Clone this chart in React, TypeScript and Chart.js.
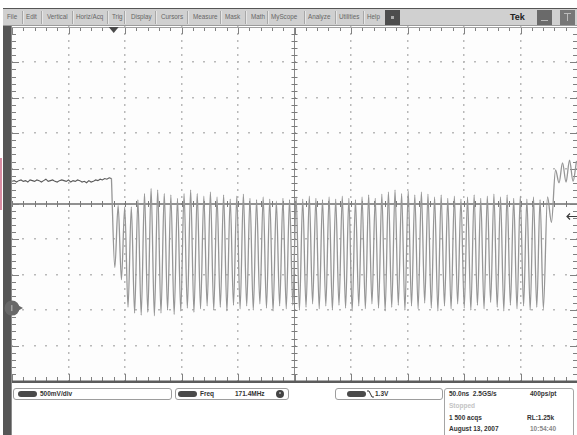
import React, { useEffect, useRef } from "react";
import { Chart, registerables } from "chart.js";

Chart.register(...registerables);

// ---- Scope settings (axis units: ns, volts) ----
const X_MIN = -250;
const X_MAX = 250;
const Y_MIN = -1.03;
const Y_MAX = 3.97;
const TRIGGER_TIME = -160;
const TRIGGER_LEVEL = 1.3;
const FREQ_MHZ = 171.4;

// ---- Pre-trigger flat section ----
const flatStart = -250;
const flatStep = 2;
const flatVolts = [
  1.79, 1.8, 1.78, 1.8, 1.81, 1.79, 1.8, 1.78, 1.81, 1.8,
  1.79, 1.81, 1.8, 1.78, 1.8, 1.82, 1.79, 1.8, 1.81, 1.79,
  1.78, 1.8, 1.81, 1.8, 1.79, 1.81, 1.78, 1.8, 1.79, 1.81,
  1.8, 1.78, 1.79, 1.77, 1.8, 1.78, 1.79, 1.81, 1.8, 1.82,
  1.81, 1.83, 1.82, 1.84, 1.83,
];

// ---- Burst: troughs and peaks, alternating at half-period spacing ----
const burstStart = -159;
const burstTroughs = [
  0.57, 0.4, 0.01, -0.07, -0.1, -0.06, -0.11, -0.07, -0.03, -0.09,
  -0.04, 0.0, -0.06, -0.01, 0.03, -0.03, 0.01, -0.04, 0.04, -0.01,
  0.03, -0.03, 0.06, 0.0, -0.04, 0.03, -0.01, 0.04, -0.03, 0.01,
  0.06, -0.01, 0.03, -0.03, 0.04, 0.0, -0.04, 0.03, -0.01, 0.06,
  0.0, -0.04, 0.01, 0.04, -0.03, 0.03, -0.01, 0.07, 0.0, -0.04,
  0.03, -0.01, 0.06, 0.0, -0.03, 0.04, -0.01, 0.08, 0.01, -0.04,
  0.04, -0.01, 0.03, -0.03, 0.01, -0.01,
];
const burstPeaks = [
  1.45, 1.43, 1.43, 1.53, 1.62, 1.69, 1.67, 1.62, 1.6, 1.55,
  1.62, 1.67, 1.62, 1.58, 1.64, 1.57, 1.6, 1.54, 1.58, 1.61,
  1.55, 1.53, 1.57, 1.54, 1.51, 1.55, 1.53, 1.57, 1.54, 1.58,
  1.55, 1.53, 1.57, 1.54, 1.58, 1.55, 1.53, 1.57, 1.6, 1.55,
  1.61, 1.64, 1.67, 1.62, 1.65, 1.6, 1.64, 1.61, 1.57, 1.6,
  1.55, 1.58, 1.54, 1.57, 1.6, 1.55, 1.58, 1.61, 1.57, 1.6,
  1.55, 1.58, 1.54, 1.57, 1.53,
];

// ---- Tail after the burst ----
const tailTimes = [223.9, 227.4, 231.0, 234.1, 237.2, 240.3, 243.4, 246.5, 249.6];
const tailVolts = [1.57, 1.21, 1.95, 1.77, 2.05, 1.78, 2.09, 1.79, 2.08];

// ---- Text ----
const menuLabels = ["File", "Edit", "Vertical", "Horiz/Acq", "Trig", "Display", "Cursors", "Measure", "Mask", "Math", "MyScope", "Analyze", "Utilities", "Help"];
const menuX = [7, 26, 47, 76, 112, 131, 161, 193, 225, 251, 271, 308, 339, 367];
const menuSep = [22, 41, 72, 107, 124, 155, 187, 220, 245, 267, 304, 335, 363];

const FONT = '"Liberation Sans", Arial, sans-serif';

const scopePlugin = {
  id: "scopeGraticule",
  beforeDatasetsDraw(chart: any) {
    const ctx = chart.ctx;
    const { left, right, top, bottom } = chart.chartArea;
    const w = right - left;
    const h = bottom - top;
    const dx = w / 10;
    const dy = h / 10;
    ctx.save();
    ctx.fillStyle = "#fdfdfd";
    ctx.fillRect(left, top, w, h);
    // dotted major lines
    ctx.fillStyle = "#b9b9b9";
    for (let i = 1; i < 10; i++) {
      if (i === 5) continue;
      const x = Math.round(left + i * dx);
      for (let j = 0; j <= 50; j++) {
        const y = Math.round(top + (j * dy) / 5);
        ctx.fillRect(x - 1, y - 1, 1.5, 2);
      }
      const yy = Math.round(top + i * dy);
      for (let j = 0; j <= 50; j++) {
        const xx = Math.round(left + (j * dx) / 5);
        ctx.fillRect(xx - 1, yy - 1, 2, 1.5);
      }
    }
    // center cross
    const cx = left + 5 * dx;
    const cy = top + 5 * dy;
    ctx.strokeStyle = "#6c6c6c";
    ctx.lineWidth = 1.4;
    ctx.beginPath();
    ctx.moveTo(left, cy);
    ctx.lineTo(right, cy);
    ctx.stroke();
    ctx.lineWidth = 1;
    ctx.strokeStyle = "#8a8a8a";
    ctx.beginPath();
    ctx.moveTo(cx, top);
    ctx.lineTo(cx, bottom);
    ctx.stroke();
    ctx.strokeStyle = "#7a7a7a";
    ctx.beginPath();
    for (let j = 0; j <= 50; j++) {
      const x = Math.round(left + (j * dx) / 5) + 0.5;
      ctx.moveTo(x, cy - 3);
      ctx.lineTo(x, cy + 3);
      const y = Math.round(top + (j * dy) / 5) + 0.5;
      ctx.moveTo(cx - 3, y);
      ctx.lineTo(cx + 3, y);
    }
    ctx.stroke();
    // edge ticks
    ctx.strokeStyle = "#808080";
    ctx.beginPath();
    for (let j = 0; j <= 50; j++) {
      const len = j % 5 === 0 ? 7 : 4;
      const x = Math.round(left + (j * dx) / 5) + 0.5;
      ctx.moveTo(x, top);
      ctx.lineTo(x, top + len);
      ctx.moveTo(x, bottom);
      ctx.lineTo(x, bottom - len);
      const y = Math.round(top + (j * dy) / 5) + 0.5;
      ctx.moveTo(left, y);
      ctx.lineTo(left + len, y);
      ctx.moveTo(right, y);
      ctx.lineTo(right - len, y);
    }
    ctx.stroke();
    // top border
    ctx.fillStyle = "#a0a0a0";
    ctx.fillRect(left, top, w, 1);
    ctx.restore();
  },
  afterDatasetsDraw(chart: any) {
    const ctx = chart.ctx;
    const { left, right, top, bottom } = chart.chartArea;
    const xs = chart.scales.x;
    const ys = chart.scales.y;
    ctx.save();
    // left dark bar
    ctx.fillStyle = "#565656";
    ctx.fillRect(0, 0, left - 1, chart.height);
    ctx.fillStyle = "#8c8c8c";
    ctx.fillRect(left - 1, 0, 1, chart.height);
    // bottom thick line
    ctx.fillStyle = "#5c5c5c";
    ctx.fillRect(left, bottom - 0.5, right - left, 2.5);
    // trigger position marker
    const tx = xs.getPixelForValue(TRIGGER_TIME);
    ctx.fillStyle = "#4a4a4a";
    ctx.beginPath();
    ctx.moveTo(tx - 5, top);
    ctx.lineTo(tx + 5, top);
    ctx.lineTo(tx, top + 6);
    ctx.closePath();
    ctx.fill();
    // channel ground marker
    const gy = ys.getPixelForValue(0);
    ctx.fillStyle = "#686868";
    ctx.beginPath();
    ctx.arc(9, gy, 7.5, 0, Math.PI * 2);
    ctx.fill();
    ctx.beginPath();
    ctx.moveTo(9, gy - 6);
    ctx.lineTo(20, gy);
    ctx.lineTo(9, gy + 6);
    ctx.closePath();
    ctx.fill();
    ctx.fillStyle = "#a4a4a4";
    ctx.fillRect(8, gy - 3, 1.5, 6);
    // trigger level arrow
    const ty = Math.round(ys.getPixelForValue(TRIGGER_LEVEL)) + 0.5;
    ctx.strokeStyle = "#3c3c3c";
    ctx.lineWidth = 1.2;
    ctx.beginPath();
    ctx.moveTo(right, ty);
    ctx.lineTo(right - 10, ty);
    ctx.moveTo(right - 7, ty - 3);
    ctx.lineTo(right - 10, ty);
    ctx.lineTo(right - 7, ty + 3);
    ctx.stroke();
    ctx.restore();
  },
};

function ScopeChart() {
  const ref = useRef<HTMLCanvasElement | null>(null);
  useEffect(() => {
    if (!ref.current) return;
    const halfPeriod = 1000 / FREQ_MHZ / 2;
    const flatData = flatVolts.map((v, i) => ({ x: flatStart + i * flatStep, y: v }));
    const burstData: { x: number; y: number }[] = [flatData[flatData.length - 1]];
    const n = burstTroughs.length + burstPeaks.length;
    for (let i = 0; i < n; i++) {
      const v = i % 2 === 0 ? burstTroughs[i / 2] : burstPeaks[(i - 1) / 2];
      burstData.push({ x: burstStart + i * halfPeriod, y: v });
    }
    tailTimes.forEach((t, i) => burstData.push({ x: t, y: tailVolts[i] }));

    const chart = new Chart(ref.current, {
      type: "line",
      data: {
        datasets: [
          {
            data: flatData,
            borderColor: "#5a5a5a",
            borderWidth: 1.1,
            pointRadius: 0,
            tension: 0,
          },
          {
            data: burstData,
            borderColor: "#969696",
            borderWidth: 1.3,
            pointRadius: 0,
            cubicInterpolationMode: "monotone",
          },
        ],
      },
      options: {
        animation: false,
        responsive: false,
        events: [],
        layout: { padding: { left: 9, right: 0, top: 1, bottom: 3 } },
        plugins: { legend: { display: false }, tooltip: { enabled: false } },
        scales: {
          x: { type: "linear", min: X_MIN, max: X_MAX, display: false },
          y: { type: "linear", min: Y_MIN, max: Y_MAX, display: false },
        },
      },
      plugins: [scopePlugin],
    } as any);
    return () => chart.destroy();
  }, []);
  return <canvas ref={ref} width={574} height={358} style={{ position: "absolute", left: 3, top: 26, display: "block" }} />;
}

const abs = (l: number, t: number, extra: React.CSSProperties = {}): React.CSSProperties => ({
  position: "absolute",
  left: l,
  top: t,
  ...extra,
});

const txt = (l: number, t: number, extra: React.CSSProperties = {}): React.CSSProperties =>
  abs(l, t, { fontFamily: FONT, fontSize: 6.5, fontWeight: "bold", color: "#333", lineHeight: "8px", whiteSpace: "nowrap", ...extra });

function Pill({ l, t }: { l: number; t: number }) {
  return <div style={abs(l, t, { width: 19, height: 6, borderRadius: 3, background: "#4a4a4a" })} />;
}

export default function App() {
  return (
    <div style={{ position: "absolute", left: 0, top: 0, width: 577, height: 435, overflow: "hidden", background: "#fff" }}>
      {/* pink edge */}
      <div style={abs(0, 158, { width: 2, height: 52, background: "#d98ca2" })} />
      {/* menu bar */}
      <div style={abs(3, 8, { width: 574, height: 18, background: "#d0d0d0", borderTop: "1px solid #555", borderBottom: "1px solid #9a9a9a", boxSizing: "border-box" })} />
      {menuSep.map((x, i) => (
        <div key={"s" + i} style={abs(x, 11, { width: 1, height: 13, background: "#a8a8a8", borderRight: "1px solid #e6e6e6" })} />
      ))}
      {menuLabels.map((m, i) => (
        <div key={"m" + i} style={txt(menuX[i], 13, { fontWeight: "normal", color: "#666", fontSize: 6.3 })}>{m}</div>
      ))}
      <div style={abs(385, 10, { width: 15, height: 15, background: "#4d4d4d" })}>
        <div style={abs(6, 6, { width: 3, height: 3, background: "#aaa" })} />
      </div>
      <div style={txt(510, 12, { fontSize: 9, lineHeight: "10px", color: "#222" })}>Tek</div>
      <div style={abs(537, 10, { width: 15, height: 15, background: "#6a6a6a" })}>
        <div style={abs(4, 10, { width: 7, height: 1, background: "#bbb" })} />
      </div>
      <div style={abs(560, 10, { width: 15, height: 15, background: "#777" })}>
        <div style={abs(4, 3, { width: 7, height: 1, background: "#bbb" })} />
        <div style={abs(7, 4, { width: 1, height: 7, background: "#bbb" })} />
      </div>

      {/* graticule + waveform */}
      <ScopeChart />

      {/* left bar continuing below */}
      <div style={abs(3, 384, { width: 8, height: 51, background: "#565656" })} />
      <div style={abs(11, 384, { width: 1, height: 51, background: "#8c8c8c" })} />

      {/* readout boxes */}
      <div style={abs(13, 388, { width: 159, height: 12, border: "1px solid #9d9d9d", borderRadius: 3, boxSizing: "border-box" })} />
      <Pill l={18} t={391} />
      <div style={txt(40, 390)}>500mV/div</div>

      <div style={abs(175, 388, { width: 114, height: 12, border: "1px solid #9d9d9d", borderRadius: 3, boxSizing: "border-box" })} />
      <Pill l={178} t={391} />
      <div style={txt(200, 390)}>Freq</div>
      <div style={txt(235, 390)}>171.4MHz</div>
      <div style={abs(276, 390, { width: 8, height: 8, borderRadius: 4, background: "#444" })}>
        <div style={abs(3, 2, { width: 2, height: 2, background: "#999" })} />
      </div>

      <div style={abs(335, 388, { width: 108, height: 12, border: "1px solid #9d9d9d", borderRadius: 3, boxSizing: "border-box" })} />
      <Pill l={347} t={391} />
      <svg style={abs(367, 390)} width={7} height={8}>
        <polyline points="0,1 2,1 5,7 7,7" fill="none" stroke="#333" strokeWidth={1} />
      </svg>
      <div style={txt(375, 390)}>1.3V</div>

      <div style={abs(444, 388, { width: 130, height: 50, border: "1px solid #a5a5a5", borderRadius: 3, boxSizing: "border-box" })} />
      <div style={txt(449, 390)}>50.0ns&nbsp;&nbsp;2.5GS/s</div>
      <div style={txt(530, 390)}>400ps/pt</div>
      <div style={txt(449, 402, { color: "#c4c4c4" })}>Stopped</div>
      <div style={txt(449, 414)}>1 500 acqs</div>
      <div style={txt(527, 414)}>RL:1.25k</div>
      <div style={txt(449, 425)}>August 13, 2007</div>
      <div style={txt(530, 425, { color: "#888" })}>10:54:40</div>
    </div>
  );
}
